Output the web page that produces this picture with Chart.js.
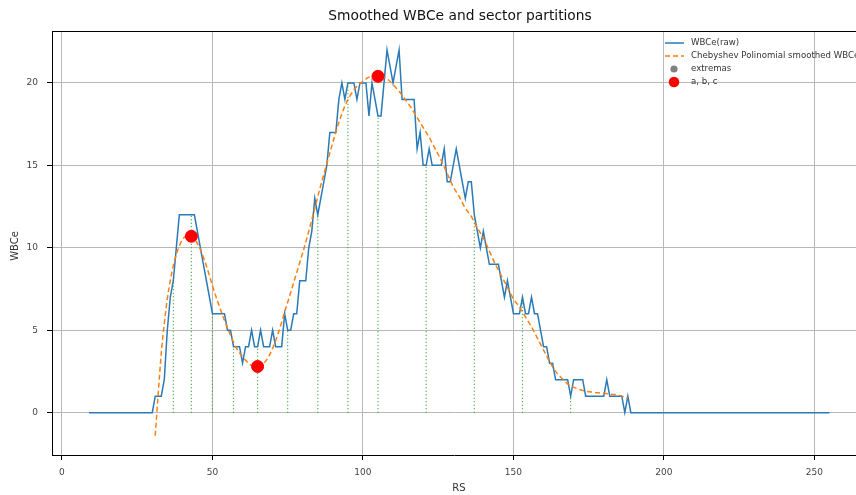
<!DOCTYPE html>
<html lang="en">
<head>
<meta charset="UTF-8">
<title>Smoothed WBCe and sector partitions</title>
<script src="https://cdn.jsdelivr.net/npm/chart.js"></script>
<style>
  html, body { margin: 0; padding: 0; background: #fff; }
  canvas { display: block; }
</style>
</head>
<body>
<canvas id="wbceChart" width="856" height="495"></canvas>
<script>
// raw WBCe per RS, starting at RS 9 (one value per RS step)
const rsStart = 9;
const wbceRaw = [
  0, 0, 0, 0, 0, 0, 0, 0, 0, 0, 0, 0, 0, 0, 0, 0, 0, 0, 0, 0, 0, 0,          // 9-30
  1, 1, 1, 2, 5, 7, 8, 10, 12, 12, 12, 12, 12, 12, 11, 10, 9, 8, 7, 6,        // 31-50
  6, 6, 6, 6, 5, 5, 4, 4, 4, 3, 4, 4, 5, 4, 4, 5, 4, 4, 4, 5,                // 51-70
  4, 4, 4, 6, 5, 5, 6, 6, 8, 8, 8, 10, 11, 13, 12, 13, 14, 15, 17, 17,       // 71-90
  17, 19, 20, 19, 20, 20, 20, 19, 20, 20, 20, 18, 20, 19, 18, 18, 20, 22, 21, 20, // 91-110
  21, 22, 19, 19, 19, 19, 19, 16, 17, 15, 15, 16, 15, 15, 15, 15, 16, 14, 14, 15, // 111-130
  16, 15, 14, 13, 14, 14, 12, 11, 10, 11, 10, 9, 9, 9, 9, 8, 7, 8, 7, 6,     // 131-150
  6, 6, 7, 6, 6, 7, 6, 6, 5, 4, 4, 3, 3, 2, 2, 2, 2, 2, 1, 2,                // 151-170
  2, 2, 2, 1, 1, 1, 1, 1, 1, 1, 2, 1, 1, 1, 1, 1, 0, 1, 0, 0,                // 171-190
  0, 0, 0, 0, 0, 0, 0, 0, 0, 0, 0, 0, 0, 0, 0, 0, 0, 0, 0, 0,                // 191-210
  0, 0, 0, 0, 0, 0, 0, 0, 0, 0, 0, 0, 0, 0, 0, 0, 0, 0, 0, 0,                // 211-230
  0, 0, 0, 0, 0, 0, 0, 0, 0, 0, 0, 0, 0, 0, 0, 0, 0, 0, 0, 0,                // 231-250
  0, 0, 0, 0, 0                                                              // 251-255
];

// Chebyshev smoothed curve
const smoothRS = [31, 32, 33, 34, 35, 36, 37, 38, 39, 40, 42, 43, 44, 46, 48, 50, 52, 54, 56, 58,
  60, 62, 64, 65, 66, 68, 70, 72, 74, 76, 78, 80, 82, 84, 86, 88, 90, 92, 94, 96,
  98, 100, 102, 104, 105, 106, 108, 110, 112, 114, 116, 118, 120, 122, 124, 126, 128, 130, 132, 134,
  136, 138, 140, 142, 144, 146, 148, 150, 152, 154, 156, 158, 160, 162, 164, 166, 168, 170, 172, 174,
  176, 178, 180, 182, 184, 186, 188];
const smoothVal = [-1.4, 1.2, 3.6, 5.4, 6.9, 8.0, 8.9, 9.6, 10.1, 10.5, 10.75, 10.7, 10.55, 9.9, 8.9, 7.7, 6.6, 5.6, 4.7, 3.9,
  3.4, 3.0, 2.8, 2.8, 2.85, 3.2, 3.9, 4.9, 6.1, 7.3, 8.5, 9.7, 11.0, 12.4, 13.8, 15.1, 16.4, 17.6, 18.6, 19.3,
  19.8, 20.1, 20.35, 20.4, 20.4, 20.4, 20.25, 19.9, 19.5, 19.0, 18.5, 17.9, 17.3, 16.7, 16.0, 15.3, 14.5, 13.7, 13.1, 12.4,
  11.9, 11.2, 10.6, 9.8, 9.0, 8.3, 7.6, 6.9, 6.4, 5.8, 5.2, 4.5, 3.8, 3.1, 2.5, 2.1, 1.75, 1.55, 1.4, 1.3,
  1.25, 1.2, 1.17, 1.13, 1.08, 1.0, 0.85];

// sector partition boundaries (dotted verticals up to raw value)
const sectorRS = [37, 43, 50, 57, 65, 75, 85, 95, 105, 121, 137, 153, 169];

// extremas of the smoothed curve (a, b, c)
const extremaRS = [43, 65, 105];
const extremaVal = [10.7, 2.8, 20.4];

const xTicks = [0, 50, 100, 150, 200, 250];
const yTicks = [0, 5, 10, 15, 20];

const FONT = 'DejaVu Sans';

const rawPoints = wbceRaw.map((v, i) => ({ x: rsStart + i, y: v }));
const smoothPoints = smoothRS.map((x, i) => ({ x: x, y: smoothVal[i] }));
const sectorPoints = [];
sectorRS.forEach(x => {
  sectorPoints.push({ x: x, y: 0 }, { x: x, y: wbceRaw[x - rsStart] }, { x: x, y: null });
});
const extremaPoints = extremaRS.map((x, i) => ({ x: x, y: extremaVal[i] }));

// titles, outer frame and legend drawn straight on the canvas
const decorations = {
  id: 'decorations',
  afterDraw(chart) {
    const ctx = chart.ctx;
    const area = chart.chartArea;
    ctx.save();
    // top spine
    ctx.strokeStyle = '#000';
    ctx.lineWidth = 1;
    ctx.beginPath();
    ctx.moveTo(area.left, area.top + 0.5);
    ctx.lineTo(856, area.top + 0.5);
    ctx.stroke();

    ctx.fillStyle = '#111';
    ctx.textAlign = 'center';
    ctx.textBaseline = 'middle';
    ctx.font = '13.8px "' + FONT + '"';
    ctx.fillText('Smoothed WBCe and sector partitions', 460, 16);

    ctx.font = '10px "' + FONT + '"';
    ctx.fillStyle = '#333';
    ctx.fillText('RS', 459, 488);
    ctx.save();
    ctx.translate(15, 246);
    ctx.rotate(-Math.PI / 2);
    ctx.fillText('WBCe', 0, 0);
    ctx.restore();

    // legend
    const rowY = [43, 56, 69, 82];
    let row = 0;
    ctx.font = '8.6px "' + FONT + '"';
    ctx.textAlign = 'left';
    chart.data.datasets.forEach(ds => {
      if (!ds.label) return;
      const y = rowY[row++];
      if (ds.showLine === false) {
        ctx.fillStyle = ds.backgroundColor;
        ctx.beginPath();
        ctx.arc(674, y, ds.legendRadius, 0, Math.PI * 2);
        ctx.fill();
      } else {
        ctx.strokeStyle = ds.borderColor;
        ctx.lineWidth = ds.borderWidth;
        ctx.setLineDash(ds.borderDash || []);
        ctx.beginPath();
        ctx.moveTo(665, y);
        ctx.lineTo(684, y);
        ctx.stroke();
        ctx.setLineDash([]);
      }
      ctx.fillStyle = '#333';
      ctx.fillText(ds.label, 691, y);
    });
    ctx.restore();
  }
};

const ctx = document.getElementById('wbceChart').getContext('2d');
new Chart(ctx, {
  type: 'line',
  data: {
    datasets: [{
      label: 'WBCe(raw)',
      data: rawPoints,
      borderColor: '#2a7ab8',
      borderWidth: 1.5,
      pointRadius: 0,
      tension: 0,
      order: 5
    }, {
      label: 'Chebyshev Polinomial smoothed WBCe',
      data: smoothPoints,
      borderColor: '#ff7f0e',
      borderWidth: 1.5,
      borderDash: [5, 3],
      pointRadius: 0,
      cubicInterpolationMode: 'monotone',
      order: 4
    }, {
      data: sectorPoints,
      borderColor: '#2ca02c',
      borderWidth: 1.2,
      borderDash: [1, 2.5],
      pointRadius: 0,
      spanGaps: false,
      order: 3
    }, {
      label: 'extremas',
      data: extremaPoints,
      showLine: false,
      backgroundColor: 'grey',
      borderColor: 'grey',
      pointRadius: 4,
      legendRadius: 3.6,
      order: 2
    }, {
      label: 'a, b, c',
      data: extremaPoints,
      showLine: false,
      backgroundColor: '#ff0000',
      borderColor: '#ff0000',
      pointRadius: 6,
      legendRadius: 5.3,
      order: 1
    }]
  },
  options: {
    responsive: false,
    animation: false,
    layout: { autoPadding: false, padding: { top: 31, right: 0, bottom: 0, left: 0 } },
    plugins: {
      legend: { display: false },
      tooltip: { enabled: false },
      title: { display: false }
    },
    scales: {
      x: {
        type: 'linear',
        min: -3.3,
        max: 263.8,
        afterFit: s => { s.height = 40; },
        afterBuildTicks: s => { s.ticks = xTicks.map(v => ({ value: v })); },
        grid: { color: '#b8b8b8', lineWidth: 1, tickColor: '#000', tickLength: 5 },
        border: { color: '#000', width: 1 },
        ticks: { color: '#444', font: { family: FONT, size: 9 }, padding: 7, maxRotation: 0 }
      },
      y: {
        type: 'linear',
        min: -2.57,
        max: 23.15,
        afterFit: s => { s.width = 52; },
        afterBuildTicks: s => { s.ticks = yTicks.map(v => ({ value: v })); },
        grid: { color: '#b8b8b8', lineWidth: 1, tickColor: '#000', tickLength: 5 },
        border: { color: '#000', width: 1 },
        ticks: { color: '#444', font: { family: FONT, size: 9 }, padding: 9 }
      }
    }
  },
  plugins: [decorations]
});
</script>
</body>
</html>
